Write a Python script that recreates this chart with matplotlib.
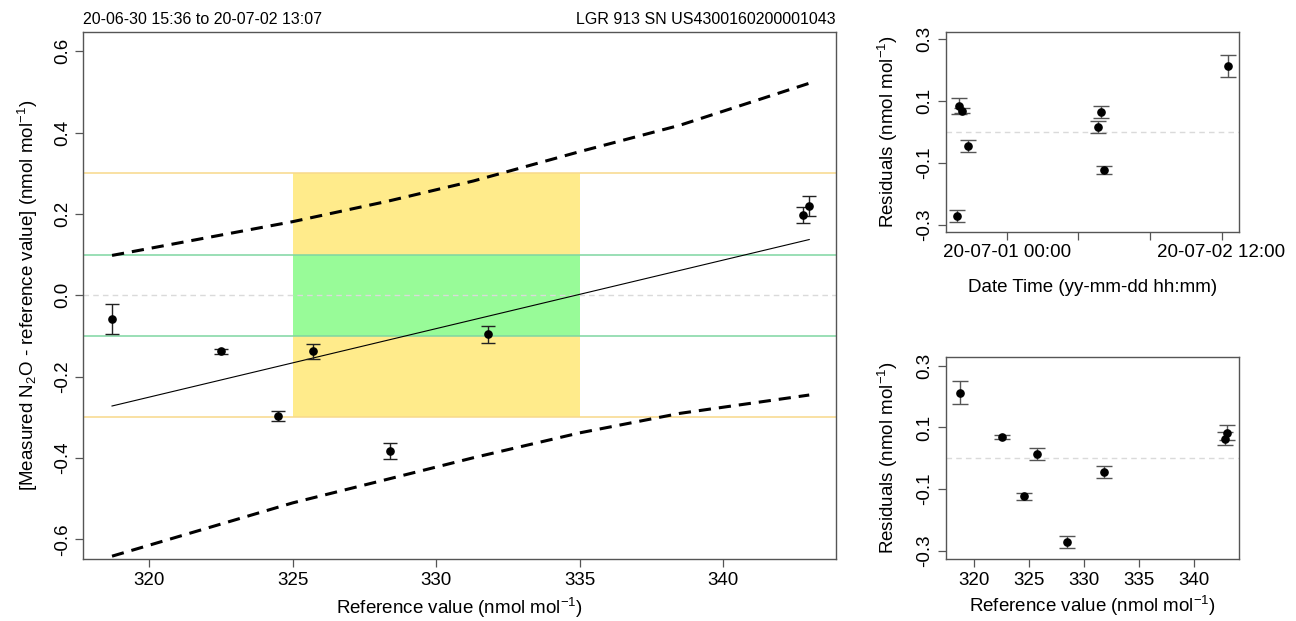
import numpy as np
import matplotlib
matplotlib.use("Agg")
import matplotlib.pyplot as plt
from datetime import datetime

plt.rcParams["font.family"] = ["Liberation Sans", "DejaVu Sans"]
plt.rcParams["mathtext.default"] = "regular"

# ---------------------------------------------------------------------------
# Calibration points (sorted by reference value)
# ---------------------------------------------------------------------------
ref_value = [318.7, 322.5, 324.5, 325.7, 328.4, 331.8, 342.8, 343.0]
meas_diff = [-0.058, -0.138, -0.297, -0.138, -0.382, -0.096, 0.197, 0.220]
meas_err  = [0.037, 0.007, 0.012, 0.019, 0.020, 0.020, 0.020, 0.025]
residual  = [0.213, 0.069, -0.123, 0.015, -0.271, -0.045, 0.064, 0.083]
meas_time = ["2020-07-02 13:04", "2020-06-30 16:30", "2020-07-01 16:15",
             "2020-07-01 15:18", "2020-06-30 15:38", "2020-06-30 17:30",
             "2020-07-01 15:51", "2020-06-30 16:01"]

# regression line end points and prediction band
fit_x = [318.7, 343.0]
fit_y = [-0.272, 0.137]
band_x     = [318.7, 325.0, 328.3, 331.3, 335.0, 338.5, 343.0]
band_upper = [0.098, 0.181, 0.231, 0.281, 0.353, 0.418, 0.521]
band_lower = [-0.641, -0.510, -0.452, -0.399, -0.338, -0.290, -0.245]

# target zones
zone_x = [325, 335]
outer_tol = 0.3
inner_tol = 0.1

header_left = "20-06-30 15:36 to 20-07-02 13:07"
header_right = "LGR 913 SN US4300160200001043"

UNIT = "(nmol mol$^{-1}$)"
SPINE = "#555555"
FS = 13.5


def r_style(ax):
    for s in ax.spines.values():
        s.set_color(SPINE)
        s.set_linewidth(1.0)
    ax.tick_params(direction="out", length=6, width=0.9, color=SPINE,
                   labelsize=FS, pad=3)
    for lab in ax.get_yticklabels():
        lab.set_rotation(90)
        lab.set_va("center")


fig = plt.figure(figsize=(12.96, 6.21), dpi=100)

# ---------------------------------------------------------------------------
# Main panel
# ---------------------------------------------------------------------------
ax = fig.add_axes([0.0643, 0.0998, 0.5807, 0.8487])
ax.fill_between(zone_x, -outer_tol, outer_tol, color="#FFEB8B", lw=0, zorder=1)
ax.fill_between(zone_x, -inner_tol, inner_tol, color="#98FB98", lw=0, zorder=1.1)
for yv in (outer_tol, -outer_tol):
    ax.axhline(yv, color="#F8D98A", lw=1.1, zorder=1.2)
for yv in (inner_tol, -inner_tol):
    ax.axhline(yv, color="#7FD6A2", lw=1.1, zorder=1.2)
ax.axhline(0, color="#DADADA", lw=1.0, ls=(0, (4, 3)), zorder=1.3)

ax.plot(fit_x, fit_y, color="black", lw=0.8, zorder=3)
ax.plot(band_x, band_upper, color="black", lw=2.2, ls=(0, (4, 2.6)), zorder=3)
ax.plot(band_x, band_lower, color="black", lw=2.2, ls=(0, (4, 2.6)), zorder=3)

ax.errorbar(ref_value, meas_diff, yerr=meas_err, fmt="o", color="black",
            ms=5.2, ecolor="#222222", elinewidth=1.0, capsize=5, capthick=1.0,
            zorder=4)

ax.set_xlim(317.7, 343.93)
ax.set_ylim(-0.648, 0.647)
ax.set_xticks([320, 325, 330, 335, 340])
ax.set_yticks([-0.6, -0.4, -0.2, 0.0, 0.2, 0.4, 0.6])
ax.set_yticklabels(["-0.6", "-0.4", "-0.2", "0.0", "0.2", "0.4", "0.6"])
r_style(ax)
ax.set_xlabel("Reference value " + UNIT, fontsize=FS, labelpad=5)
ax.set_ylabel("[Measured N$_2$O - reference value] " + UNIT, fontsize=FS,
              labelpad=10)
ax.text(0.0, 1.01, header_left, transform=ax.transAxes, ha="left",
        va="bottom", fontsize=11.5)
ax.text(1.0, 1.01, header_right, transform=ax.transAxes, ha="right",
        va="bottom", fontsize=11.5)

# ---------------------------------------------------------------------------
# Residuals against time
# ---------------------------------------------------------------------------
t = [datetime.strptime(s, "%Y-%m-%d %H:%M") for s in meas_time]
axt = fig.add_axes([0.7299, 0.6269, 0.2263, 0.3221])
axt.axhline(0, color="#DADADA", lw=1.0, ls=(0, (4, 3)), zorder=1)
axt.errorbar(t, residual, yerr=meas_err, fmt="o", color="black", ms=5.2,
             ecolor="#555555", elinewidth=1.0, capsize=6, capthick=1.0,
             zorder=3)
axt.set_xlim(datetime(2020, 6, 30, 13, 50), datetime(2020, 7, 2, 14, 58))
axt.set_ylim(-0.3226, 0.3238)
tick_times = [datetime(2020, 7, 1, 0, 0), datetime(2020, 7, 1, 12, 0),
              datetime(2020, 7, 2, 0, 0), datetime(2020, 7, 2, 12, 0)]
axt.set_xticks(tick_times)
axt.set_xticklabels(["20-07-01 00:00", "", "", "20-07-02 12:00"])
axt.set_yticks([-0.3, -0.1, 0.1, 0.3])
axt.set_yticklabels(["-0.3", "-0.1", "0.1", "0.3"])
r_style(axt)
axt.set_xlabel("Date Time (yy-mm-dd hh:mm)", fontsize=FS, labelpad=13)
axt.set_ylabel("Residuals " + UNIT, fontsize=FS, labelpad=12)

# ---------------------------------------------------------------------------
# Residuals against reference value
# ---------------------------------------------------------------------------
axr = fig.add_axes([0.7299, 0.0998, 0.2263, 0.3258])
axr.axhline(0, color="#DADADA", lw=1.0, ls=(0, (4, 3)), zorder=1)
axr.errorbar(ref_value, residual, yerr=meas_err, fmt="o", color="black",
             ms=5.2, ecolor="#555555", elinewidth=1.0, capsize=6,
             capthick=1.0, zorder=3)
axr.set_xlim(317.4, 344.13)
axr.set_ylim(-0.326, 0.329)
axr.set_xticks([320, 325, 330, 335, 340])
axr.set_yticks([-0.3, -0.1, 0.1, 0.3])
axr.set_yticklabels(["-0.3", "-0.1", "0.1", "0.3"])
r_style(axr)
axr.set_xlabel("Reference value " + UNIT, fontsize=FS, labelpad=4)
axr.set_ylabel("Residuals " + UNIT, fontsize=FS, labelpad=12)

fig.savefig("out.png", dpi=100)
